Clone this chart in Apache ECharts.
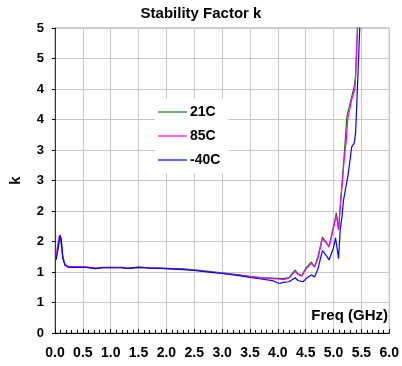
<!DOCTYPE html>
<html>
<head>
<meta charset="utf-8">
<script src="https://cdn.jsdelivr.net/npm/echarts@6/dist/echarts.min.js"></script>
<style>
  html, body { margin: 0; padding: 0; background: #fff; }
  #chart { width: 402px; height: 366px; }
</style>
</head>
<body>
<div id="chart"></div>
<script>
// frequency (GHz), k
const k21C = [
  [0.02, 1.24], [0.05, 1.38], [0.09, 1.6], [0.11, 1.57], [0.14, 1.25], [0.18, 1.12],
  [0.25, 1.08], [0.4, 1.08], [0.55, 1.08], [0.73, 1.06], [0.85, 1.075], [1.0, 1.075],
  [1.2, 1.075], [1.3, 1.065], [1.5, 1.08], [1.7, 1.07], [2.0, 1.06], [2.3, 1.05],
  [2.5, 1.035], [2.8, 1.005], [3.0, 0.985], [3.3, 0.955], [3.5, 0.93], [3.7, 0.91],
  [3.9, 0.9], [4.0, 0.895], [4.1, 0.89], [4.2, 0.91], [4.31, 1.03], [4.36, 0.97],
  [4.43, 0.94], [4.5, 1.06], [4.6, 1.16], [4.66, 1.09], [4.72, 1.25], [4.8, 1.57],
  [4.86, 1.5], [4.92, 1.42], [5.0, 1.75], [5.05, 1.97], [5.09, 1.7], [5.12, 2.07],
  [5.16, 2.55], [5.19, 2.9], [5.24, 3.55], [5.325, 3.87], [5.37, 4.04], [5.395, 4.2],
  [5.43, 5.0], [5.45, 5.5]
];
const k85C = [
  [0.02, 1.28], [0.05, 1.45], [0.08, 1.6], [0.11, 1.55], [0.14, 1.24], [0.18, 1.12],
  [0.25, 1.085], [0.4, 1.09], [0.55, 1.085], [0.73, 1.065], [0.85, 1.07], [1.0, 1.075],
  [1.2, 1.07], [1.3, 1.06], [1.5, 1.075], [1.7, 1.07], [2.0, 1.055], [2.3, 1.045],
  [2.5, 1.03], [2.8, 1.0], [3.0, 0.98], [3.3, 0.95], [3.5, 0.925], [3.7, 0.905],
  [3.9, 0.89], [4.0, 0.885], [4.1, 0.875], [4.2, 0.9], [4.31, 1.01], [4.36, 0.96],
  [4.43, 0.93], [4.5, 1.04], [4.6, 1.14], [4.66, 1.08], [4.72, 1.22], [4.8, 1.55],
  [4.86, 1.48], [4.92, 1.41], [5.0, 1.72], [5.05, 1.93], [5.09, 1.69], [5.12, 2.07],
  [5.16, 2.5], [5.19, 2.84], [5.23, 3.16], [5.255, 3.5], [5.325, 3.82], [5.385, 4.0],
  [5.43, 5.0], [5.45, 5.5]
];
const kMinus40C = [
  [0.02, 1.2], [0.05, 1.35], [0.09, 1.6], [0.11, 1.55], [0.14, 1.22], [0.18, 1.11],
  [0.25, 1.075], [0.4, 1.075], [0.55, 1.075], [0.73, 1.055], [0.85, 1.07], [1.0, 1.07],
  [1.2, 1.07], [1.3, 1.06], [1.5, 1.075], [1.7, 1.065], [2.0, 1.055], [2.3, 1.04],
  [2.5, 1.025], [2.8, 0.995], [3.0, 0.975], [3.3, 0.94], [3.5, 0.91], [3.7, 0.885],
  [3.9, 0.86], [4.0, 0.82], [4.05, 0.815], [4.1, 0.83], [4.2, 0.84], [4.31, 0.905],
  [4.36, 0.86], [4.45, 0.84], [4.52, 0.9], [4.6, 0.95], [4.66, 0.92], [4.72, 1.05],
  [4.8, 1.35], [4.86, 1.28], [4.92, 1.2], [5.0, 1.4], [5.035, 1.56], [5.07, 1.35],
  [5.09, 1.22], [5.12, 1.7], [5.15, 1.9], [5.18, 2.18], [5.21, 2.34], [5.255, 2.56],
  [5.297, 2.84], [5.325, 3.05], [5.37, 3.11], [5.395, 3.27], [5.43, 4.04], [5.47, 5.0],
  [5.49, 5.5]
];
const seriesNames = ['21C', '85C', '-40C'];
const seriesColors = ['#008000', '#ff00ff', '#0000ff'];

const font = 'Liberation Sans, Arial, sans-serif';
const chart = echarts.init(document.getElementById('chart'), null, { renderer: 'canvas' });

const mkLine = (name, data, color) => ({
  name,
  type: 'line',
  data,
  symbol: 'none',
  smooth: false,
  clip: true,
  lineStyle: { color, width: 1.2 },
  itemStyle: { color },
  emphasis: { disabled: true }
});

chart.setOption({
  animation: false,
  backgroundColor: '#fff',
  textStyle: { fontFamily: font },
  title: {
    text: 'Stability Factor k',
    left: 'center',
    top: 6,
    padding: 0,
    textStyle: { fontFamily: font, fontWeight: 'bold', fontSize: 15, color: '#000' }
  },
  legend: {
    orient: 'vertical',
    left: 155,
    top: 99,
    padding: [6, 8, 6, 3],
    itemGap: 10,
    itemWidth: 29,
    itemHeight: 16,
    icon: 'path://M0,7.4L29,7.4L29,8.6L0,8.6Z',
    backgroundColor: '#fff',
    data: seriesNames,
    textStyle: { fontFamily: font, fontWeight: 'bold', fontSize: 14, color: '#000', padding: [0, 0, 0, -2] }
  },
  grid: {
    left: 48, right: 10, top: 28, bottom: 33,
    show: true, borderColor: '#a0a0a0', borderWidth: 1,
    containLabel: false
  },
  xAxis: {
    type: 'value',
    min: 0, max: 6, interval: 0.5,
    axisLine: { show: true, lineStyle: { color: '#000', width: 1 } },
    axisTick: { show: true, inside: true, length: 4, lineStyle: { color: '#000' } },
    minorTick: { show: true, splitNumber: 5, length: 3, lineStyle: { color: '#000' } },
    splitLine: { show: true, lineStyle: { color: '#c8c8c8', width: 1 } },
    axisLabel: {
      margin: 13,
      formatter: v => v.toFixed(1),
      fontFamily: font, fontWeight: 'bold', fontSize: 14, color: '#000'
    }
  },
  yAxis: {
    type: 'value',
    min: 0, max: 5, interval: 0.5,
    name: 'k',
    nameLocation: 'middle',
    nameRotate: 90,
    nameGap: 32,
    nameTextStyle: { fontFamily: font, fontWeight: 'bold', fontSize: 15, color: '#000' },
    axisLine: { show: true, lineStyle: { color: '#333', width: 1 } },
    axisTick: { show: true, inside: false, length: 3, lineStyle: { color: '#000' } },
    splitLine: { show: true, lineStyle: { color: '#c8c8c8', width: 1 } },
    axisLabel: {
      margin: 11,
      formatter: v => String(Math.round(v)),
      fontFamily: font, fontWeight: 'bold', fontSize: 13, color: '#000'
    }
  },
  graphic: [{
    type: 'text',
    right: 14,
    top: 308,
    style: {
      text: 'Freq (GHz)',
      fontFamily: font, fontWeight: 'bold', fontSize: 15, fill: '#000'
    },
    z: 100
  }],
  series: [
    mkLine(seriesNames[0], k21C, seriesColors[0]),
    mkLine(seriesNames[1], k85C, seriesColors[1]),
    mkLine(seriesNames[2], kMinus40C, seriesColors[2])
  ]
});
</script>
</body>
</html>
